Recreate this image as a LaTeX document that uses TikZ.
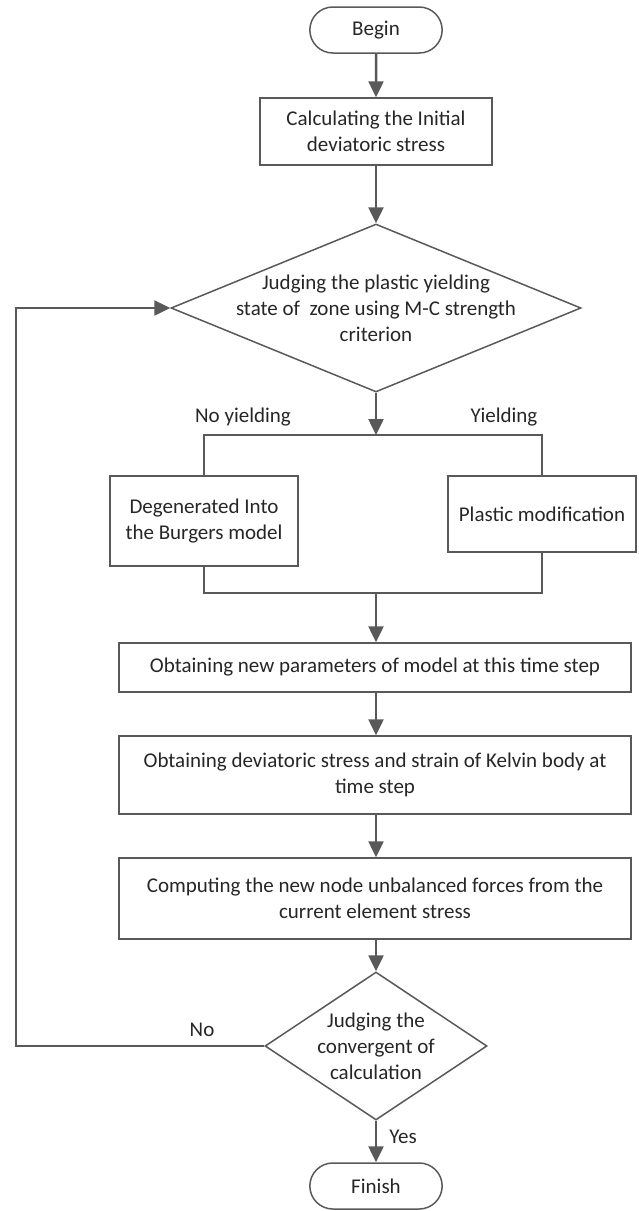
\documentclass[tikz,border=0pt]{standalone}
\usepackage{fontspec}
\setmainfont{Carlito}
\usetikzlibrary{shapes.geometric}
\usetikzlibrary{shapes.misc}
\usetikzlibrary{arrows.meta}
\definecolor{linegray}{HTML}{595959}

\begin{document}
\begin{tikzpicture}[x=1pt,y=-1pt,font=\fontsize{21}{26}\selectfont,text=black!85,
	terminal/.style={draw=linegray,line width=1.5pt,rounded rectangle,minimum width=139pt,minimum height=46pt},
	procbox/.style={draw=linegray,line width=1.5pt,align=center,inner sep=2pt},
	decision/.style={draw=linegray,line width=1.5pt,diamond,inner sep=0pt},
	flowline/.style={draw=linegray,line width=2.5pt},
	flowarrow/.style={flowline,-{Triangle[length=16pt,width=15pt]}}]
	\useasboundingbox (0,0) rectangle (638,1211);
	\node[terminal] (begin) at (376,30) {Begin};
	\node[procbox,minimum width=232pt,minimum height=67pt] (init) at (376,131.5) {Calculating the Initial\\deviatoric stress};
	\node[decision,minimum width=410pt,minimum height=168pt,label={[align=center]center:{Judging the plastic yielding\\state of~ zone using M-C strength\\criterion}}] (yield) at (376,308) {};
	\node[procbox,minimum width=188pt,minimum height=90pt] (burgers) at (204,521) {Degenerated Into\\the Burgers model};
	\node[procbox,minimum width=188pt,minimum height=76pt] (plastic) at (542,514) {Plastic modification};
	\node[procbox,minimum width=512pt,minimum height=49pt] (params) at (375,667.5) {Obtaining new parameters of model at this time step};
	\node[procbox,minimum width=512pt,minimum height=78pt] (kelvin) at (375,775) {Obtaining deviatoric stress and strain of Kelvin body at\\time step};
	\node[procbox,minimum width=512pt,minimum height=81pt] (forces) at (375,898.5) {Computing the new node unbalanced forces from the\\current element stress};
	\node[decision,minimum width=222pt,minimum height=148pt,label={[align=center]center:{Judging the\\convergent of\\calculation}}] (conv) at (376,1046) {};
	\node[terminal] (finish) at (376,1186) {Finish};
	\node (noyield) at (243,417) {No yielding};
	\node (yieldtxt) at (504,417) {Yielding};
	\node (notxt) at (202,1030) {No};
	\node (yestxt) at (403,1137) {Yes};
	\coordinate (split) at (376,435);
	\coordinate (merge) at (376,593);
	\coordinate (loopx) at (16,1046);
	\draw[flowarrow] (begin) -- (init);
	\draw[flowarrow] (init) -- (yield.north);
	\draw[flowarrow] (yield.south) -- (split);
	\draw[flowline] (burgers.north) -- (burgers.north |- split) -- (plastic.north |- split) -- (plastic.north);
	\draw[flowline] (burgers.south) -- (burgers.south |- merge) -- (plastic.south |- merge) -- (plastic.south);
	\draw[flowarrow] (merge) -- (merge |- params.north);
	\draw[flowarrow] (params.south -| merge) -- (kelvin.north -| merge);
	\draw[flowarrow] (kelvin.south -| merge) -- (forces.north -| merge);
	\draw[flowarrow] (forces.south -| conv) -- (conv.north);
	\draw[flowarrow] (conv.south) -- (finish.north);
	\draw[flowarrow] (conv.west) -- (loopx) |- (yield.west);
\end{tikzpicture}
\end{document}
